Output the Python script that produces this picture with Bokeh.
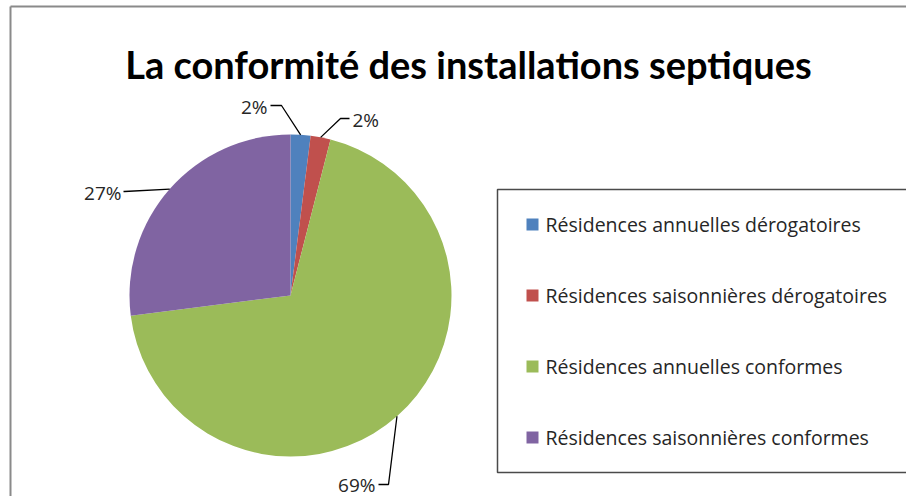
import numpy as np
from bokeh.plotting import figure
from bokeh.models import Range1d, ColumnDataSource
from bokeh.core.properties import value
from bokeh.embed import file_html
from bokeh.resources import INLINE

# ---- data ----
title = "La conformité des installations septiques"
categories = [
    "Résidences annuelles dérogatoires",
    "Résidences saisonnières dérogatoires",
    "Résidences annuelles conformes",
    "Résidences saisonnières conformes",
]
percent = [2, 2, 69, 27]
colors = ["#4F81BD", "#C0504D", "#9BBB59", "#8064A2"]

# ---- layout (picture pixel coords; data y = -picture y) ----
TFONT = "Lato"
FONT = "Open Sans"
CX, CY, R = 290, -295, 161
# leader elbow, leader end, text anchor, text align
elbow = [(281, -105), (340, -118), (388, -484), (124, -191)]
lend = [(270, -105), (349, -118), (378, -484), (123, -191)]
tpos = [(267, -106), (352, -119), (375, -484), (121, -192)]
talign = ["right", "left", "right", "right"]

p = figure(width=906, height=496, output_backend="svg", toolbar_location=None,
           x_range=Range1d(0, 906), y_range=Range1d(-496, 0),
           min_border=0, outline_line_color=None)
p.axis.visible = False
p.grid.visible = False
p.background_fill_color = "white"
p.border_fill_color = "white"

# outer chart border (left and top visible)
p.line([10, 10], [-510, -6], line_color="#8a8a8a", line_width=2)
p.line([10, 920], [-6, -6], line_color="#8a8a8a", line_width=2)

# title
p.text([468], [-63], text=[title], text_font=value(TFONT), text_font_style="bold",
       text_font_size="38px", text_align="center", text_baseline="alphabetic",
       text_color="black")

# pie
vals = np.array(percent, dtype=float)
frac = vals / vals.sum()
cum = np.concatenate([[0], np.cumsum(frac)])
start = np.pi / 2 - 2 * np.pi * cum[1:]
end = np.pi / 2 - 2 * np.pi * cum[:-1]
src = ColumnDataSource(dict(x=[CX] * 4, y=[CY] * 4, start=start, end=end, color=colors))
p.wedge(x="x", y="y", radius=R, start_angle="start", end_angle="end",
        fill_color="color", line_color=None, source=src)

# data labels with leader lines
mid = np.pi / 2 - 2 * np.pi * (cum[:-1] + cum[1:]) / 2
for i in range(4):
    ex = CX + R * np.cos(mid[i])
    ey = CY + R * np.sin(mid[i])
    p.line([ex, elbow[i][0], lend[i][0]], [ey, elbow[i][1], lend[i][1]],
           line_color="black", line_width=1.3)
    p.text([tpos[i][0]], [tpos[i][1]], text=[f"{percent[i]}%"], text_font=value(FONT),
           text_font_size="19px", text_align=talign[i], text_baseline="alphabetic",
           text_color="#262626")

# legend
p.quad(left=[497], right=[960], bottom=[-472], top=[-189], fill_color=None,
       line_color="#4a4a4a", line_width=1.5)
ly = [-224, -295, -366, -437]
p.rect(x=[532] * 4, y=ly, width=12, height=12, fill_color=colors, line_color=None)
p.text([545] * 4, ly, text=categories, text_font=value(FONT), text_font_size="19.5px",
       text_align="left", text_baseline="middle", text_color="#262626")

open("out.html", "w").write(file_html(p, INLINE))
